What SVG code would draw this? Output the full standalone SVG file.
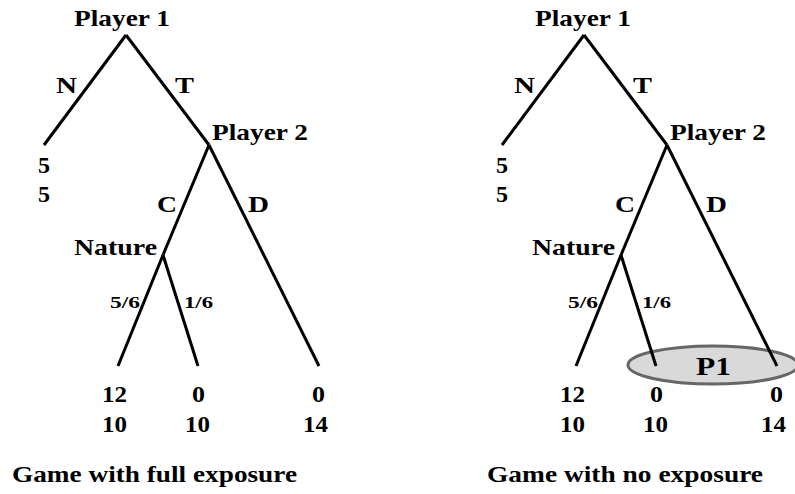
<svg xmlns="http://www.w3.org/2000/svg" width="795" height="494" viewBox="0 0 795 494" font-family="Liberation Serif, DejaVu Serif, serif" font-weight="bold">
  <style>
    .lbl { font-size: 23px; }
    .prob { font-size: 17px; }
    .pay { font-size: 23px; }
    .cap { font-size: 23px; }
    .edge { stroke: #000; stroke-width: 3; fill: none; }
    .info { fill: #d9d9d9; stroke: #666; stroke-width: 3; }
  </style>

  <rect width="795" height="494" fill="#fff"/>

  <!-- Information set of Player 1 (no-exposure game) -->
  <g id="info-set-p1">
    <ellipse class="info" cx="713" cy="365" rx="85" ry="19"/>
  </g>

  <!-- Branches and action labels -->
  <g id="connectors">
    <!-- full exposure tree -->
    <line class="edge" x1="126" y1="35" x2="44" y2="145"/>
    <line class="edge" x1="126" y1="35" x2="209" y2="145"/>
    <line class="edge" x1="209" y1="145" x2="163" y2="255"/>
    <line class="edge" x1="209" y1="145" x2="319" y2="366"/>
    <line class="edge" x1="163" y1="255" x2="118" y2="366"/>
    <line class="edge" x1="163" y1="255" x2="198" y2="366"/>
    <text class="lbl" x="56" y="93" textLength="21" lengthAdjust="spacingAndGlyphs">N</text>
    <text class="lbl" x="175" y="93" textLength="19" lengthAdjust="spacingAndGlyphs">T</text>
    <text class="lbl" x="157" y="212" textLength="20" lengthAdjust="spacingAndGlyphs">C</text>
    <text class="lbl" x="248" y="212" textLength="21" lengthAdjust="spacingAndGlyphs">D</text>
    <text class="prob" x="110" y="308" textLength="30" lengthAdjust="spacingAndGlyphs">5/6</text>
    <text class="prob" x="184" y="308" textLength="29" lengthAdjust="spacingAndGlyphs">1/6</text>

    <!-- no exposure tree -->
    <line class="edge" x1="584" y1="35" x2="502" y2="145"/>
    <line class="edge" x1="584" y1="35" x2="667" y2="145"/>
    <line class="edge" x1="667" y1="145" x2="621" y2="255"/>
    <line class="edge" x1="667" y1="145" x2="777" y2="366"/>
    <line class="edge" x1="621" y1="255" x2="576" y2="366"/>
    <line class="edge" x1="621" y1="255" x2="656" y2="366"/>
    <text class="lbl" x="514" y="93" textLength="21" lengthAdjust="spacingAndGlyphs">N</text>
    <text class="lbl" x="633" y="93" textLength="19" lengthAdjust="spacingAndGlyphs">T</text>
    <text class="lbl" x="615" y="212" textLength="20" lengthAdjust="spacingAndGlyphs">C</text>
    <text class="lbl" x="706" y="212" textLength="21" lengthAdjust="spacingAndGlyphs">D</text>
    <text class="prob" x="568" y="308" textLength="30" lengthAdjust="spacingAndGlyphs">5/6</text>
    <text class="prob" x="642" y="308" textLength="29" lengthAdjust="spacingAndGlyphs">1/6</text>
  </g>

  <!-- Full exposure game: decision nodes -->
  <g id="full-player1"><text class="lbl" x="74" y="26" textLength="96" lengthAdjust="spacingAndGlyphs">Player 1</text></g>
  <g id="full-player2"><text class="lbl" x="212" y="140" textLength="96" lengthAdjust="spacingAndGlyphs">Player 2</text></g>
  <g id="full-nature"><text class="lbl" x="74" y="255" textLength="83" lengthAdjust="spacingAndGlyphs">Nature</text></g>

  <!-- Full exposure game: payoffs -->
  <g id="full-leaf-n">
    <text class="pay" x="38" y="173" textLength="12" lengthAdjust="spacingAndGlyphs">5</text>
    <text class="pay" x="38" y="202" textLength="12" lengthAdjust="spacingAndGlyphs">5</text>
  </g>
  <g id="full-leaf-cc">
    <text class="pay" x="102" y="402" textLength="25" lengthAdjust="spacingAndGlyphs">12</text>
    <text class="pay" x="102" y="432" textLength="25" lengthAdjust="spacingAndGlyphs">10</text>
  </g>
  <g id="full-leaf-cd">
    <text class="pay" x="192" y="402" textLength="13" lengthAdjust="spacingAndGlyphs">0</text>
    <text class="pay" x="185" y="432" textLength="25" lengthAdjust="spacingAndGlyphs">10</text>
  </g>
  <g id="full-leaf-d">
    <text class="pay" x="312" y="402" textLength="13" lengthAdjust="spacingAndGlyphs">0</text>
    <text class="pay" x="303" y="432" textLength="25" lengthAdjust="spacingAndGlyphs">14</text>
  </g>
  <g id="full-caption">
    <text class="cap" x="12" y="482" textLength="285" lengthAdjust="spacingAndGlyphs">Game with full exposure</text>
  </g>

  <!-- No exposure game: decision nodes -->
  <g id="none-player1"><text class="lbl" x="535" y="26" textLength="96" lengthAdjust="spacingAndGlyphs">Player 1</text></g>
  <g id="none-player2"><text class="lbl" x="670" y="140" textLength="96" lengthAdjust="spacingAndGlyphs">Player 2</text></g>
  <g id="none-nature"><text class="lbl" x="532" y="255" textLength="83" lengthAdjust="spacingAndGlyphs">Nature</text></g>

  <!-- No exposure game: payoffs -->
  <g id="none-leaf-n">
    <text class="pay" x="496" y="173" textLength="12" lengthAdjust="spacingAndGlyphs">5</text>
    <text class="pay" x="496" y="202" textLength="12" lengthAdjust="spacingAndGlyphs">5</text>
  </g>
  <g id="none-leaf-cc">
    <text class="pay" x="560" y="402" textLength="25" lengthAdjust="spacingAndGlyphs">12</text>
    <text class="pay" x="560" y="432" textLength="25" lengthAdjust="spacingAndGlyphs">10</text>
  </g>
  <g id="none-leaf-cd">
    <text class="pay" x="650" y="402" textLength="13" lengthAdjust="spacingAndGlyphs">0</text>
    <text class="pay" x="643" y="432" textLength="25" lengthAdjust="spacingAndGlyphs">10</text>
  </g>
  <g id="none-leaf-d">
    <text class="pay" x="770" y="402" textLength="13" lengthAdjust="spacingAndGlyphs">0</text>
    <text class="pay" x="761" y="432" textLength="25" lengthAdjust="spacingAndGlyphs">14</text>
  </g>
  <g id="none-p1-label">
    <text x="696" y="375" font-size="25" textLength="35" lengthAdjust="spacingAndGlyphs">P1</text>
  </g>
  <g id="none-caption">
    <text class="cap" x="487" y="482" textLength="276" lengthAdjust="spacingAndGlyphs">Game with no exposure</text>
  </g>
</svg>
